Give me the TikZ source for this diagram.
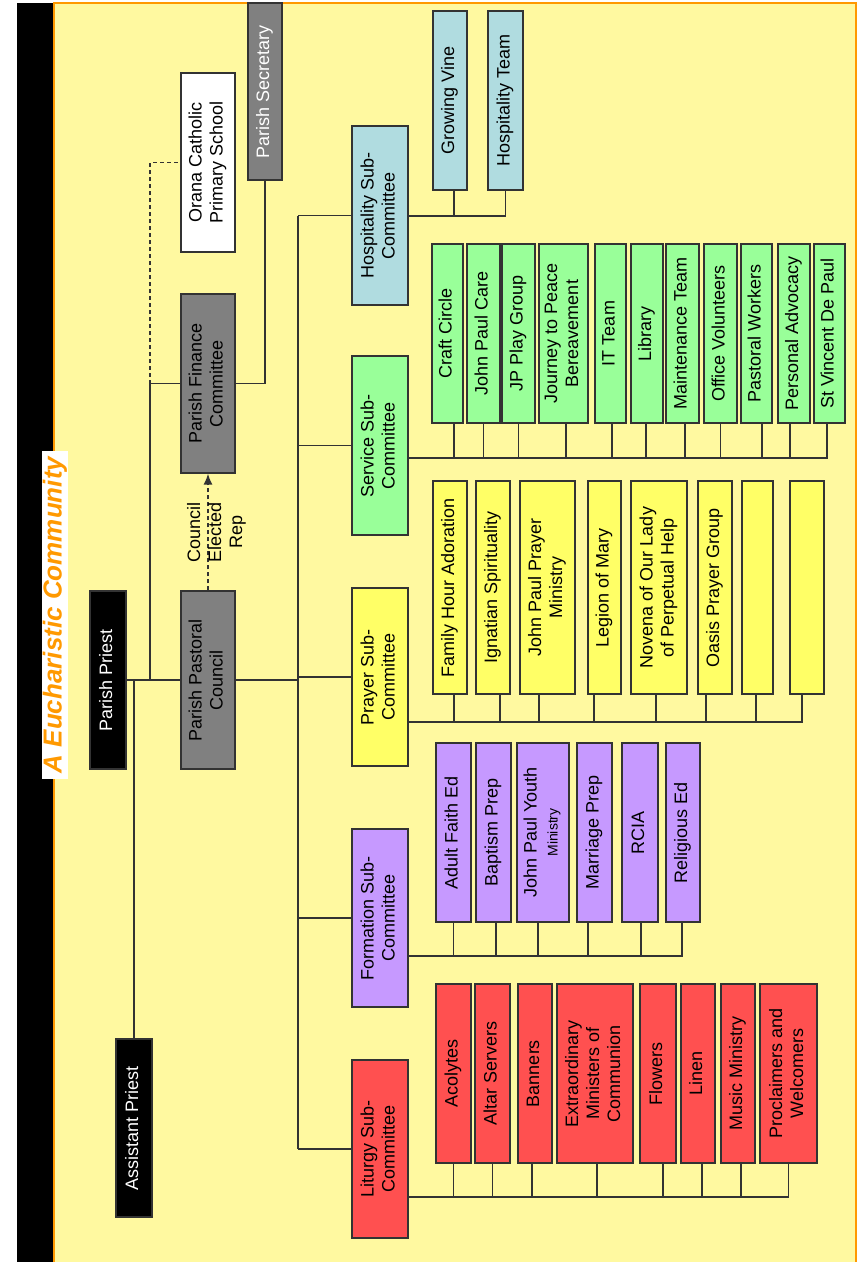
\documentclass[tikz,border=0pt]{standalone}
\usepackage{fontspec}
\setmainfont{Liberation Sans}
\usepackage{graphicx}
\usetikzlibrary{arrows.meta}
\definecolor{bgyel}{HTML}{FFF9A0}
\definecolor{titleorange}{HTML}{FF9900}
\definecolor{linecol}{HTML}{333333}
\definecolor{boxgray}{HTML}{808080}
\definecolor{hospblue}{HTML}{B0DCE0}
\definecolor{servgreen}{HTML}{99FF99}
\definecolor{prayyel}{HTML}{FFFF66}
\definecolor{formpurple}{HTML}{C699FF}
\definecolor{litured}{HTML}{FF5050}
\newcommand{\vt}[1]{\rotatebox{90}{\begin{tabular}{@{}c@{}}#1\end{tabular}}}
\tikzset{
  orgbox/.style={draw=linecol, line width=1.3pt, inner sep=0pt,
    font=\fontsize{18}{21}\selectfont},
  wire/.style={draw=linecol, line width=1.4pt},
}
\begin{document}
\begin{tikzpicture}[x=1pt,y=-1pt]
\useasboundingbox (0,0) rectangle (858,1262);
%fond
\fill[black] (17,3) rectangle (54,1262);
\fill[bgyel] (54,3) rectangle (856,1262);
\draw[titleorange, line width=1.5pt] (54,1262) -- (54,3) -- (856,3) -- (856,1262);
%titre
\node[fill=white, inner xsep=6pt, inner ysep=1pt, rotate=90, text=titleorange,
  font=\fontsize{26}{30}\selectfont\bfseries\itshape] (title) at (55,615) {A Eucharistic Community};
%pretres et conseils
\node[orgbox, fill=black, text=white, minimum width=36, minimum height=178] (pp) at (108,680) {\vt{Parish Priest}};
\node[orgbox, fill=black, text=white, minimum width=36, minimum height=178] (ap) at (134,1128) {\vt{Assistant Priest}};
\node[orgbox, fill=boxgray, minimum width=54, minimum height=178] (ppc) at (208,680) {\vt{Parish Pastoral\\Council}};
\node[orgbox, fill=boxgray, minimum width=54, minimum height=179] (pfc) at (208,383.5) {\vt{Parish Finance\\Committee}};
\node[orgbox, fill=white, minimum width=54, minimum height=179] (ocps) at (208,162.5) {\vt{Orana Catholic\\Primary School}};
\node[orgbox, fill=boxgray, text=white, minimum width=34, minimum height=177] (psec) at (265,91.5) {\vt{Parish Secretary}};
%sous-comites
\node[orgbox, fill=hospblue, minimum width=56, minimum height=179] (hosp) at (380,215.5) {\vt{Hospitality Sub-\\Committee}};
\node[orgbox, fill=servgreen, minimum width=56, minimum height=179] (serv) at (380,445.5) {\vt{Service Sub-\\Committee}};
\node[orgbox, fill=prayyel, minimum width=56, minimum height=178] (pray) at (380,677) {\vt{Prayer Sub-\\Committee}};
\node[orgbox, fill=formpurple, minimum width=56, minimum height=178] (form) at (380,918) {\vt{Formation Sub-\\Committee}};
\node[orgbox, fill=litured, minimum width=56, minimum height=178] (litu) at (380,1149) {\vt{Liturgy Sub-\\Committee}};
%liens
\coordinate (jfin) at (150,680);
\coordinate (jass) at (134,680);
\coordinate (mbus) at (298,680);
\draw[wire] (pp.east) -- (ppc.west);
\draw[wire] (jfin) |- (pfc.west);
\draw[wire, dash pattern=on 4pt off 3pt] (jfin |- pfc.west) |- (ocps.west);
\draw[wire] (jass) -- (ap.north);
\draw[wire] (pfc.east) -| (psec.south);
\draw[wire, dash pattern=on 4pt off 3pt, -{Latex[length=11pt,width=9pt]}] (ppc.north) -- (pfc.south)
  node[midway, xshift=9pt, font=\fontsize{18}{21}\selectfont] (rep) {\vt{Council\\Elected\\Rep}};
\draw[wire] (ppc.east) -- (mbus);
\draw[wire] (mbus |- hosp.west) -- (mbus |- litu.west);
\foreach \s in {hosp,serv,pray,form,litu}
  {\draw[wire] (mbus |- \s.west) -- (\s.west);}
%bus des groupes
\coordinate (hospbus) at (408,216);
\coordinate (servbus) at (408,458);
\coordinate (praybus) at (408,722);
\coordinate (formbus) at (408,956);
\coordinate (litubus) at (408,1197);
%hospitalite
\foreach \i/\xa/\xb/\o/\t in {1/433/467/4/{Growing Vine}, 2/488/523/0/{Hospitality Team}}
{\pgfmathsetmacro\w{\xb-\xa}\pgfmathsetmacro\cx{(\xa+\xb)/2}
 \node[orgbox, fill=hospblue, minimum width=\w pt, minimum height=179] (h\i) at (\cx,100.5) {\vt{\t}};
 \draw[wire] (hospbus) -| ([xshift=\o pt]h\i.south);}
%service
\foreach \i/\xa/\xb/\o/\t in {1/432/463/6.5/{Craft Circle}, 2/467/500/0/{John Paul Care},
  3/502/535/0/{JP Play Group}, 4/539/588/2.5/{Journey to Peace\\Bereavement},
  5/595/626/1.5/{IT Team}, 6/631/663/-1/{Library}, 7/666/699/2.5/{Maintenance Team},
  8/704/737/0/{Office Volunteers}, 9/741/772/5.5/{Pastoral Workers},
  10/778/810/-4/{Personal Advocacy}, 11/814/845/-2.5/{St Vincent De Paul}}
{\pgfmathsetmacro\w{\xb-\xa}\pgfmathsetmacro\cx{(\xa+\xb)/2}
 \node[orgbox, fill=servgreen, minimum width=\w pt, minimum height=179] (s\i) at (\cx,333.5) {\vt{\t}};
 \draw[wire] (servbus) -| ([xshift=\o pt]s\i.south);}
%priere
\foreach \i/\xa/\xb/\o/\t in {1/433/467/4/{Family Hour Adoration}, 2/476/510/7/{Ignatian Spirituality},
  3/520/575/-8.5/{John Paul Prayer\\Ministry}, 4/588/621/-10.5/{Legion of Mary},
  5/631/687/-3/{Novena of Our Lady\\of Perpetual Help}, 6/698/732/-9/{Oasis Prayer Group},
  7/742/773/-1.5/{}, 8/790/824/-5/{}}
{\pgfmathsetmacro\w{\xb-\xa}\pgfmathsetmacro\cx{(\xa+\xb)/2}
 \node[orgbox, fill=prayyel, minimum width=\w pt, minimum height=213] (p\i) at (\cx,587.5) {\vt{\t}};
 \draw[wire] (praybus) -| ([xshift=\o pt]p\i.south);}
%formation
\foreach \i/\xa/\xb/\o/\t in {1/436/471/0/{Adult Faith Ed}, 2/476/511/2.5/{Baptism Prep},
  3/517/569/-5/{John Paul Youth\\{\fontsize{14}{16}\selectfont Ministry}}, 4/577/612/-6.5/{Marriage Prep},
  5/622/658/1/{RCIA}, 6/666/700/-1/{Religious Ed}}
{\pgfmathsetmacro\w{\xb-\xa}\pgfmathsetmacro\cx{(\xa+\xb)/2}
 \node[orgbox, fill=formpurple, minimum width=\w pt, minimum height=179] (f\i) at (\cx,832.5) {\vt{\t}};
 \draw[wire] (formbus) -| ([xshift=\o pt]f\i.south);}
%liturgie
\foreach \i/\xa/\xb/\o/\t in {1/436/471/0/{Acolytes}, 2/475/510/0/{Altar Servers},
  3/518/552/-3/{Banners}, 4/557/633/2/{Extraordinary\\Ministers of\\Communion},
  5/640/676/5/{Flowers}, 6/681/715/4/{Linen}, 7/721/755/3/{Music Ministry},
  8/760/817/0/{Proclaimers and\\Welcomers}}
{\pgfmathsetmacro\w{\xb-\xa}\pgfmathsetmacro\cx{(\xa+\xb)/2}
 \node[orgbox, fill=litured, minimum width=\w pt, minimum height=179] (l\i) at (\cx,1073.5) {\vt{\t}};
 \draw[wire] (litubus) -| ([xshift=\o pt]l\i.south);}
\end{tikzpicture}
\end{document}
